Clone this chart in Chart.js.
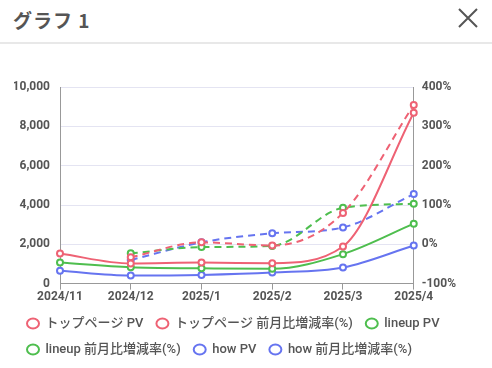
<!DOCTYPE html>
<html>
<head>
<meta charset="utf-8">
<script src="https://cdn.jsdelivr.net/npm/chart.js@4"></script>
<style>
    html, body { margin: 0; padding: 0; background: #fff; width: 492px; height: 368px; overflow: hidden; font-family: Roboto, "Noto Sans CJK JP", sans-serif; }
    .head { height: 42px; border-bottom: 2px solid #e8e8e8; position: relative; }
    .head h1 { margin: 0; position: absolute; left: 13px; top: 6px; font-size: 19px; font-weight: bold; color: #555; font-family: "Noto Sans CJK JP", sans-serif; letter-spacing: 1px; }
    .head svg { position: absolute; left: 457px; top: 7px; }
    .box { position: absolute; left: 0; top: 70px; width: 492px; height: 298px; }
</style>
</head>
<body>
<div class="head">
    <h1>グラフ 1</h1>
    <svg width="22" height="22" viewBox="0 0 22 22"><path d="M2 2 L20 20 M20 2 L2 20" stroke="#555" stroke-width="2" fill="none"/></svg>
</div>
<div class="box"><canvas id="chart" width="492" height="298"></canvas></div>
<script>
const months = ['2024/11', '2024/12', '2025/1', '2025/2', '2025/3', '2025/4'];

const topPv = [1530, 1020, 1070, 1040, 1890, 8700];
const topRate = [null, -33, 5, -3, 80, 355];
const lineupPv = [1070, 830, 780, 750, 1500, 3050];
const lineupRate = [null, -23, -7, -4, 93, 103];
const howPv = [650, 410, 440, 560, 820, 1940];
const howRate = [null, -40, 5, 28, 43, 128];

const red = 'rgb(238, 98, 116)';
const green = 'rgb(78, 190, 78)';
const blue = 'rgb(102, 116, 240)';

function series(label, data, color, axis, dashed) {
    return {
        label,
        data,
        yAxisID: axis,
        borderColor: color,
        backgroundColor: '#fff',
        pointBorderColor: color,
        pointBackgroundColor: '#fff',
        pointBorderWidth: 2,
        pointRadius: 3,
        borderWidth: 2,
        borderDash: dashed ? [7, 5] : [],
        cubicInterpolationMode: 'monotone',
        spanGaps: true,
    };
}

const tickFont = { family: 'Roboto', size: 12, weight: 'bold' };

new Chart(document.getElementById('chart'), {
    type: 'line',
    data: {
        labels: months,
        datasets: [
            series('トップページ PV', topPv, red, 'y', false),
            series('トップページ 前月比増減率(%)', topRate, red, 'y1', true),
            series('lineup PV', lineupPv, green, 'y', false),
            series('lineup 前月比増減率(%)', lineupRate, green, 'y1', true),
            series('how PV', howPv, blue, 'y', false),
            series('how 前月比増減率(%)', howRate, blue, 'y1', true),
        ],
    },
    options: {
        responsive: false,
        animation: false,
        layout: { padding: { left: 14, right: 28, top: 8, bottom: 2 } },
        plugins: {
            legend: {
                position: 'bottom',
                align: 'start',
                labels: {
                    usePointStyle: true,
                    pointStyle: 'circle',
                    pointStyleWidth: 12,
                    boxWidth: 12,
                    boxHeight: 7,
                    padding: 13,
                    color: '#555',
                    font: { family: "Roboto, 'Noto Sans CJK JP'", size: 13, weight: '500' },
                },
            },
            tooltip: { enabled: false },
        },
        scales: {
            x: {
                offset: false,
                grid: { drawOnChartArea: false, color: '#999', tickLength: 6 },
                border: { color: '#999' },
                ticks: { color: '#555', font: tickFont, maxRotation: 0, padding: 0 },
            },
            y: {
                position: 'left',
                min: 0,
                max: 10000,
                afterFit: (scale) => { scale.width = 46; },
                ticks: { stepSize: 2000, color: '#555', font: tickFont, padding: 10 },
                grid: { color: '#e4e4f2', drawTicks: false },
                border: { color: '#999' },
            },
            y1: {
                position: 'right',
                min: -100,
                max: 400,
                ticks: { stepSize: 100, color: '#555', font: tickFont, padding: 8, callback: (v) => v + '%' },
                grid: { drawOnChartArea: false, drawTicks: false },
                border: { color: '#999' },
            },
        },
    },
});
</script>
</body>
</html>
